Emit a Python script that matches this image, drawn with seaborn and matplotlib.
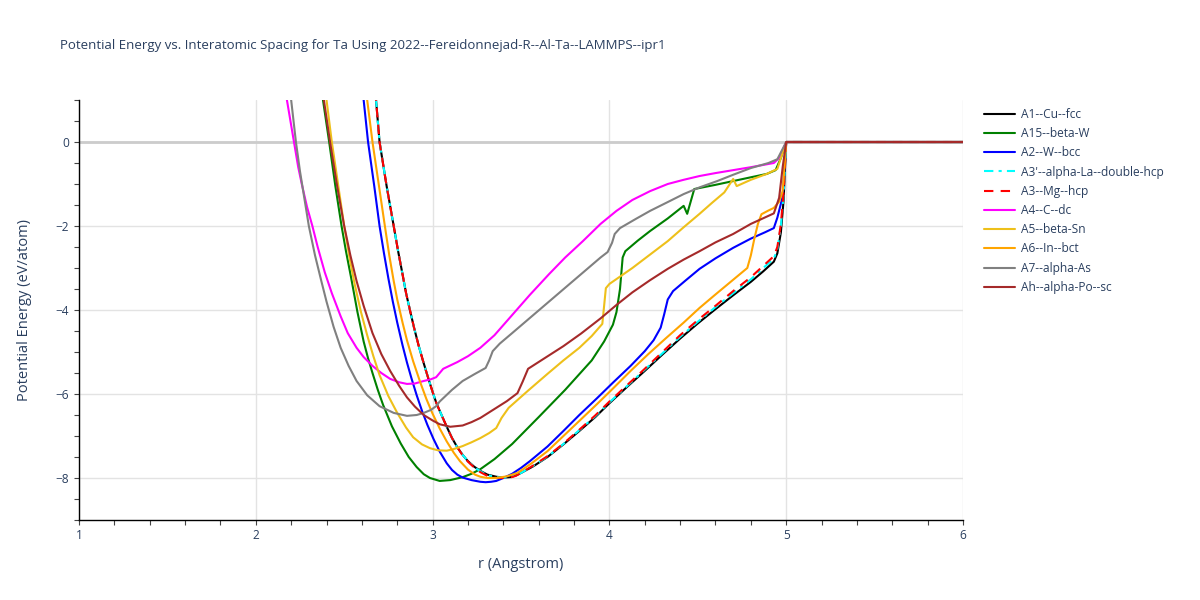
import matplotlib
matplotlib.use("Agg")
import numpy as np
import pandas as pd
import seaborn as sns
import matplotlib.pyplot as plt
from matplotlib.ticker import MultipleLocator

# ---------------- data ----------------
title = "Potential Energy vs. Interatomic Spacing for Ta Using 2022--Fereidonnejad-R--Al-Ta--LAMMPS--ipr1"
x_label = "r (Angstrom)"
y_label = "Potential Energy (eV/atom)"

names = ["A1--Cu--fcc", "A15--beta-W", "A2--W--bcc", "A3'--alpha-La--double-hcp",
         "A3--Mg--hcp", "A4--C--dc", "A5--beta-Sn", "A6--In--bct", "A7--alpha-As",
         "Ah--alpha-Po--sc"]

r_A1 = [2.668, 2.68, 2.70, 2.74, 2.78, 2.805, 2.83, 2.85, 2.87, 2.895, 2.92, 2.945, 2.97, 3.00, 3.02,
        3.04, 3.08, 3.11, 3.14, 3.17, 3.20, 3.235, 3.27, 3.31, 3.36, 3.40, 3.44, 3.47, 3.50, 3.57,
        3.65, 3.74, 3.83, 3.92, 4.00, 4.10, 4.20, 4.30, 4.40, 4.50, 4.60, 4.70, 4.80, 4.87, 4.93,
        4.95, 4.97, 4.985, 5.00, 6.00]
E_A1 = [1.6, 1.0, 0.0, -1.05, -2.0, -2.6, -3.15, -3.6, -3.97, -4.42, -4.83, -5.2, -5.55, -5.95, -6.2,
        -6.4, -6.78, -7.05, -7.27, -7.45, -7.6, -7.73, -7.83, -7.92, -7.97, -7.99, -7.98, -7.94, -7.88, -7.72,
        -7.5, -7.2, -6.88, -6.55, -6.22, -5.83, -5.45, -5.06, -4.68, -4.32, -3.98, -3.65, -3.33, -3.08, -2.85,
        -2.65, -2.15, -1.4, 0.0, 0.0]

r_A3p = list(r_A1)
E_A3p = [1.6, 1.0, 0.0, -1.05, -2.0, -2.6, -3.15, -3.6, -3.97, -4.42, -4.83, -5.2, -5.55, -5.95, -6.2,
         -6.4, -6.78, -7.05, -7.27, -7.45, -7.6, -7.74, -7.84, -7.93, -7.98, -7.99, -7.98, -7.94, -7.88, -7.71,
         -7.49, -7.19, -6.86, -6.53, -6.2, -5.81, -5.42, -5.03, -4.64, -4.28, -3.93, -3.6, -3.27, -3.0, -2.78,
         -2.55, -2.0, -1.25, 0.0, 0.0]

r_A3 = list(r_A1)
E_A3 = [1.6, 1.0, 0.0, -1.05, -2.0, -2.6, -3.15, -3.6, -3.97, -4.42, -4.83, -5.2, -5.55, -5.95, -6.2,
        -6.4, -6.78, -7.05, -7.27, -7.46, -7.61, -7.75, -7.86, -7.95, -8.0, -8.0, -7.99, -7.95, -7.88, -7.7,
        -7.48, -7.18, -6.85, -6.51, -6.18, -5.79, -5.4, -5.0, -4.6, -4.24, -3.9, -3.55, -3.22, -2.95, -2.72,
        -2.5, -1.95, -1.2, 0.0, 0.0]

r_A2 = [2.596, 2.61, 2.635, 2.67, 2.70, 2.725, 2.75, 2.775, 2.80, 2.83, 2.855, 2.88, 2.91, 2.94, 2.97,
        3.005, 3.04, 3.08, 3.11, 3.14, 3.17, 3.22, 3.27, 3.30, 3.33, 3.36, 3.40, 3.45, 3.50, 3.55,
        3.65, 3.74, 3.83, 3.93, 4.02, 4.12, 4.20, 4.25, 4.27, 4.29, 4.31, 4.33, 4.36, 4.43, 4.51,
        4.60, 4.70, 4.80, 4.88, 4.93, 4.95, 4.98, 5.00, 6.00]
E_A2 = [1.6, 1.0, 0.0, -1.05, -2.0, -2.65, -3.25, -3.8, -4.3, -4.84, -5.25, -5.62, -6.03, -6.4, -6.73,
        -7.07, -7.37, -7.65, -7.81, -7.92, -7.99, -8.05, -8.09, -8.1, -8.09, -8.07, -8.0, -7.9, -7.76, -7.6,
        -7.25, -6.88, -6.5, -6.1, -5.73, -5.33, -4.98, -4.72, -4.57, -4.42, -4.1, -3.75, -3.55, -3.3, -3.02,
        -2.77, -2.52, -2.3, -2.15, -2.05, -1.8, -1.3, 0.0, 0.0]

r_A6 = [2.615, 2.63, 2.66, 2.695, 2.73, 2.755, 2.78, 2.80, 2.83, 2.855, 2.89, 2.93, 2.965, 3.00, 3.04,
        3.08, 3.12, 3.155, 3.20, 3.24, 3.27, 3.31, 3.36, 3.42, 3.48, 3.56, 3.65, 3.74, 3.83, 3.93,
        4.02, 4.12, 4.22, 4.32, 4.42, 4.51, 4.60, 4.70, 4.78, 4.80, 4.82, 4.84, 4.86, 4.90, 4.93,
        4.96, 4.98, 5.00, 6.00]
E_A6 = [1.6, 1.0, 0.0, -1.0, -2.0, -2.7, -3.31, -3.75, -4.3, -4.72, -5.22, -5.72, -6.12, -6.47, -6.82,
        -7.13, -7.4, -7.6, -7.8, -7.92, -7.97, -8.0, -8.0, -7.96, -7.88, -7.65, -7.36, -7.0, -6.64, -6.24,
        -5.87, -5.45, -5.05, -4.67, -4.3, -3.95, -3.63, -3.28, -3.0, -2.7, -2.3, -1.95, -1.72, -1.63, -1.57,
        -1.42, -1.17, 0.0, 0.0]

r_A5 = [2.385, 2.40, 2.43, 2.465, 2.50, 2.53, 2.56, 2.595, 2.63, 2.665, 2.70, 2.75, 2.80, 2.85, 2.89,
        2.94, 2.985, 3.03, 3.08, 3.12, 3.17, 3.22, 3.27, 3.32, 3.36, 3.39, 3.43, 3.54, 3.65, 3.74,
        3.83, 3.90, 3.96, 3.98, 4.00, 4.13, 4.23, 4.33, 4.42, 4.51, 4.58, 4.65, 4.70, 4.72, 4.80,
        4.89, 4.95, 4.97, 5.00, 6.00]
E_A5 = [1.6, 1.0, 0.0, -1.0, -2.0, -2.75, -3.4, -4.05, -4.6, -5.1, -5.55, -6.05, -6.45, -6.8, -7.03,
        -7.2, -7.29, -7.34, -7.35, -7.31, -7.24, -7.15, -7.05, -6.93, -6.81, -6.57, -6.33, -5.92, -5.52, -5.2,
        -4.9, -4.62, -4.33, -3.48, -3.38, -3.0, -2.68, -2.36, -2.03, -1.71, -1.45, -1.2, -0.88, -1.05, -0.9,
        -0.76, -0.64, -0.38, 0.0, 0.0]

r_A15 = [2.365, 2.38, 2.415, 2.45, 2.485, 2.51, 2.54, 2.575, 2.61, 2.635, 2.66, 2.69, 2.72, 2.77, 2.82,
         2.865, 2.91, 2.95, 2.985, 3.04, 3.10, 3.17, 3.22, 3.27, 3.35, 3.45, 3.60, 3.75, 3.90, 3.97,
         4.02, 4.04, 4.06, 4.075, 4.09, 4.16, 4.23, 4.33, 4.42, 4.44, 4.48, 4.60, 4.70, 4.80, 4.89,
         4.94, 4.97, 5.00, 6.00]
E_A15 = [1.6, 1.0, 0.0, -1.05, -2.0, -2.6, -3.25, -4.05, -4.75, -5.15, -5.5, -5.9, -6.26, -6.77, -7.18,
         -7.5, -7.74, -7.91, -8.0, -8.07, -8.05, -7.98, -7.9, -7.79, -7.55, -7.19, -6.55, -5.9, -5.2, -4.75,
         -4.35, -4.05, -3.5, -2.75, -2.6, -2.35, -2.12, -1.82, -1.52, -1.71, -1.12, -1.02, -0.93, -0.84, -0.76,
         -0.67, -0.38, 0.0, 0.0]

r_Ah = [2.37, 2.385, 2.42, 2.46, 2.50, 2.535, 2.57, 2.61, 2.66, 2.71, 2.76, 2.81, 2.855, 2.90, 2.95,
        3.00, 3.04, 3.10, 3.17, 3.22, 3.27, 3.36, 3.42, 3.48, 3.51, 3.54, 3.64, 3.74, 3.84, 3.95,
        4.04, 4.13, 4.23, 4.33, 4.42, 4.51, 4.60, 4.70, 4.80, 4.93, 4.96, 4.98, 5.00, 6.00]
E_Ah = [1.6, 1.0, 0.0, -1.05, -2.0, -2.7, -3.31, -3.9, -4.55, -5.05, -5.45, -5.8, -6.08, -6.3, -6.5,
        -6.63, -6.72, -6.78, -6.75, -6.67, -6.57, -6.33, -6.17, -5.98, -5.7, -5.4, -5.13, -4.86, -4.56, -4.2,
        -3.88, -3.58, -3.29, -3.02, -2.8, -2.6, -2.39, -2.19, -1.95, -1.7, -1.33, -0.6, 0.0, 0.0]

r_A4 = [2.165, 2.176, 2.196, 2.216, 2.24, 2.26, 2.29, 2.32, 2.35, 2.39, 2.43, 2.48, 2.52, 2.57, 2.61,
        2.66, 2.71, 2.76, 2.81, 2.855, 2.90, 2.95, 2.99, 3.02, 3.04, 3.06, 3.10, 3.14, 3.20, 3.27,
        3.35, 3.45, 3.55, 3.66, 3.75, 3.85, 3.95, 4.04, 4.13, 4.23, 4.33, 4.42, 4.51, 4.60, 4.70,
        4.80, 4.93, 4.96, 5.00, 6.00]
E_A4 = [1.6, 1.0, 0.5, 0.0, -0.6, -1.0, -1.55, -2.0, -2.5, -3.1, -3.6, -4.15, -4.55, -4.9, -5.12,
        -5.33, -5.5, -5.64, -5.72, -5.76, -5.75, -5.69, -5.65, -5.6, -5.5, -5.4, -5.32, -5.24, -5.1, -4.9,
        -4.6, -4.12, -3.64, -3.14, -2.75, -2.36, -1.95, -1.64, -1.38, -1.17, -1.0, -0.9, -0.81, -0.74, -0.67,
        -0.6, -0.5, -0.38, 0.0, 0.0]

r_A7 = [2.188, 2.20, 2.227, 2.25, 2.275, 2.30, 2.335, 2.37, 2.40, 2.44, 2.48, 2.525, 2.57, 2.63, 2.70,
        2.78, 2.855, 2.91, 2.95, 2.99, 3.02, 3.04, 3.06, 3.11, 3.17, 3.24, 3.30, 3.32, 3.34, 3.38,
        3.45, 3.70, 3.95, 3.99, 4.015, 4.03, 4.06, 4.15, 4.23, 4.33, 4.42, 4.51, 4.61, 4.70, 4.80,
        4.90, 4.95, 5.00, 6.00]
E_A7 = [1.5, 1.0, 0.0, -0.7, -1.35, -2.0, -2.7, -3.3, -3.8, -4.4, -4.9, -5.33, -5.69, -6.03, -6.29,
        -6.45, -6.52, -6.5, -6.45, -6.38, -6.29, -6.18, -6.1, -5.9, -5.69, -5.52, -5.38, -5.2, -4.98, -4.8,
        -4.55, -3.65, -2.75, -2.62, -2.4, -2.19, -2.05, -1.83, -1.64, -1.43, -1.24, -1.08, -0.93, -0.78, -0.62,
        -0.5, -0.41, 0.0, 0.0]

series_r = [r_A1, r_A15, r_A2, r_A3p, r_A3, r_A4, r_A5, r_A6, r_A7, r_Ah]
series_E = [E_A1, E_A15, E_A2, E_A3p, E_A3, E_A4, E_A5, E_A6, E_A7, E_Ah]

colors = ["black", "green", "blue", "cyan", "red", "magenta", "#EEC01A", "orange", "grey", "brown"]
styles = ["-", "-", "-", (0, (4.5, 2.5, 1.5, 2.5)), (0, (4.5, 3.5)), "-", "-", "-", "-", "-"]

x_ticks = [1, 2, 3, 4, 5, 6]
y_ticks = [0, -2, -4, -6, -8]

# ---------------- style ----------------
sns.set_theme(style="white")
plt.rcParams["font.family"] = ["Open Sans", "DejaVu Sans"]
txt_color = "#2a3f5f"

fig = plt.figure(figsize=(12, 6), dpi=100)
ax = fig.add_axes([79 / 1200, 80 / 600, (963 - 79) / 1200, 420 / 600])

for name, rr, ee, c, ls in zip(names, series_r, series_E, colors, styles):
    df = pd.DataFrame({"r": rr, "E": ee})
    sns.lineplot(data=df, x="r", y="E", ax=ax, color=c, linewidth=1.5, linestyle=ls,
                 label=name, sort=False, estimator=None)

ax.set_xlim(1, 6)
ax.set_ylim(-9, 1)
ax.set_xticks(x_ticks)
ax.set_yticks(y_ticks)
ax.xaxis.set_minor_locator(MultipleLocator(0.2))
ax.yaxis.set_minor_locator(MultipleLocator(0.5))
ax.tick_params(axis="both", which="both", direction="out", length=3.6, width=0.8,
               color="#444444", labelcolor=txt_color, labelsize=8.6)
ax.tick_params(axis="both", which="both", bottom=True, left=True)
ax.tick_params(axis="x", which="major", pad=3)

ax.set_axisbelow(True)
ax.grid(True, which="major", color="#E3E3E3", linewidth=1.0)
ax.axhline(0, color="#CCCCCC", linewidth=2.0, zorder=0.9)

for side in ["top", "right"]:
    ax.spines[side].set_visible(False)
for side in ["left", "bottom"]:
    ax.spines[side].set_color("black")
    ax.spines[side].set_linewidth(1.0)

ax.set_xlabel(x_label, fontsize=10.5, color=txt_color)
ax.set_ylabel(y_label, fontsize=10.5, color=txt_color)
ax.xaxis.set_label_coords(0.5, -(564 - 520) / 420)
ax.xaxis.label.set_va("center")
ax.yaxis.set_label_coords((25 - 79) / 884, 0.5)
ax.yaxis.label.set_va("center")

handles, labels = ax.get_legend_handles_labels()
ax.get_legend().remove()
leg = fig.legend(handles, labels, loc="upper left", bbox_to_anchor=(984 / 1200, 1 - 108 / 600),
                 frameon=False, fontsize=8.6, handlelength=2.6, labelspacing=0.52,
                 handletextpad=0.5, borderaxespad=0, borderpad=0)
for t in leg.get_texts():
    t.set_color(txt_color)

fig.text(60 / 1200, 1 - 45 / 600, title, fontsize=9.5, color=txt_color, ha="left", va="center")

fig.savefig("out.png", dpi=100, facecolor="white")
